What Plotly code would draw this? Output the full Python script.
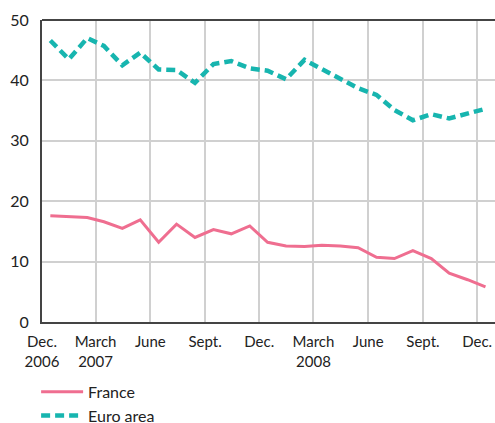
import plotly.graph_objects as go
import pandas as pd

months = pd.date_range("2006-12-01", "2008-12-01", freq="MS")
dates = [d + pd.Timedelta(days=14) for d in months]

france = [17.6, 17.5, 17.3, 16.6, 15.5, 16.9, 13.2, 16.2, 14.0, 15.3, 14.6, 15.9,
          13.2, 12.6, 12.5, 12.7, 12.6, 12.3, 10.7, 10.5, 11.8, 10.5, 8.1, 7.0, 5.8]
euro_area = [46.6, 43.5, 47.0, 45.7, 42.5, 44.6, 41.8, 41.7, 39.6, 42.7, 43.2, 42.0,
             41.6, 40.2, 43.4, 41.9, 40.3, 38.7, 37.6, 35.1, 33.4, 34.4, 33.7, 34.5, 35.3]

tick_dates = ["2006-12-01", "2007-03-01", "2007-06-01", "2007-09-01", "2007-12-01",
              "2008-03-01", "2008-06-01", "2008-09-01", "2008-12-01"]
tick_labels = ["Dec.<br>2006", "March<br>2007", "June", "Sept.", "Dec.",
               "March<br>2008", "June", "Sept.", "Dec."]
y_ticks = [0, 10, 20, 30, 40, 50]

fig = go.Figure()
fig.add_trace(go.Scatter(x=dates, y=france, name="France", mode="lines",
                         line=dict(color="#EF6E90", width=3)))
fig.add_trace(go.Scatter(x=dates, y=euro_area, name="Euro area", mode="lines",
                         line=dict(color="#17B5AF", width=4.5, dash="9px,5px")))

fig.update_layout(
    width=495, height=423,
    margin=dict(l=42, r=0, t=20, b=101, autoexpand=False),
    paper_bgcolor="white", plot_bgcolor="white",
    font=dict(family="Lato", size=16, color="#222"),
    legend=dict(orientation="v", x=-0.013, xanchor="left", y=-0.175, yanchor="top",
                font=dict(size=16), tracegroupgap=0, itemwidth=42),
    showlegend=True,
    shapes=[dict(type="line", xref="paper", yref="paper", x0=0, x1=1, y0=1, y1=1,
                 line=dict(color="#444", width=2), layer="above")],
)
fig.update_xaxes(
    type="date", range=["2006-12-01", "2008-12-31"],
    tickvals=tick_dates, ticktext=tick_labels, automargin=False,
    showgrid=True, gridcolor="#d0d0d0", gridwidth=1.5,
    showline=True, linecolor="#444", linewidth=2, mirror=False,
    ticks="", tickfont=dict(size=15), ticklabelstandoff=5,
)
fig.update_yaxes(
    range=[0, 50], tickvals=y_ticks, automargin=False, mirror=False,
    showgrid=True, gridcolor="#d0d0d0", gridwidth=1.5,
    showline=True, linecolor="#444", linewidth=2,
    ticks="", tickfont=dict(size=16), zeroline=False, ticklabelstandoff=8,
)
fig.write_html("out.html", config={"displayModeBar": False},
               post_script="document.body.style.margin='0';")
